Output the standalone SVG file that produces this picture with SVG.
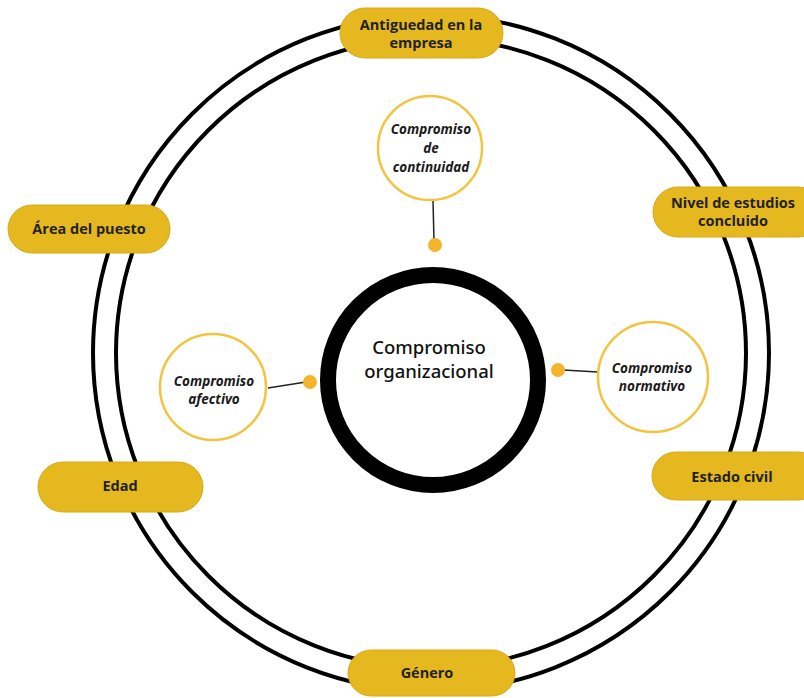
<svg xmlns="http://www.w3.org/2000/svg" width="804" height="698" viewBox="0 0 804 698">
<style>
.ring{fill:none;stroke:#000;stroke-width:4}
.pill{fill:#E6B81F;stroke:#D8A916;stroke-width:1}
.pt{font-family:"Open Sans","Noto Sans",sans-serif;font-weight:700;font-size:14.5px;fill:#222;text-anchor:middle}
.sc{fill:#fff;stroke:#F2C440;stroke-width:2.5}
.st{font-family:"Noto Sans","Open Sans",sans-serif;font-weight:700;font-style:italic;font-size:13.5px;fill:#1a1a1a;text-anchor:middle}
.ct{font-family:"Noto Sans","Open Sans",sans-serif;font-weight:500;font-size:18.5px;fill:#111;text-anchor:middle}
.dot{fill:#F4B52C}
.ln{stroke:#222;stroke-width:1.5;fill:none}
</style>
<rect width="804" height="698" fill="#fff"/>
<g id="rings">
<circle class="ring" cx="431" cy="353" r="338"/>
<circle class="ring" cx="431" cy="353" r="315"/>
</g>
<g id="connectors">
<line class="ln" x1="433" y1="200" x2="434" y2="242"/>
<line class="ln" x1="268" y1="388" x2="306" y2="382"/>
<line class="ln" x1="563" y1="370" x2="598" y2="372"/>
</g>
<g id="center">
<circle cx="433" cy="380" r="105" fill="#fff" stroke="#000" stroke-width="16"/>
<text class="ct" x="429" y="354">Compromiso</text>
<text class="ct" x="429" y="378">organizacional</text>
</g>
<g id="dot-top"><circle class="dot" cx="435" cy="245" r="7"/></g>
<g id="dot-left"><circle class="dot" cx="310" cy="382" r="7"/></g>
<g id="dot-right"><circle class="dot" cx="558" cy="370" r="7"/></g>
<g id="continuidad">
<circle class="sc" cx="430" cy="148" r="52"/>
<text class="st" x="431" y="134">Compromiso</text>
<text class="st" x="431" y="153">de</text>
<text class="st" x="431" y="172">continuidad</text>
</g>
<g id="afectivo">
<circle class="sc" cx="213" cy="387" r="53"/>
<text class="st" x="214" y="386">Compromiso</text>
<text class="st" x="214" y="404">afectivo</text>
</g>
<g id="normativo">
<circle class="sc" cx="653" cy="377" r="55"/>
<text class="st" x="652" y="373">Compromiso</text>
<text class="st" x="652" y="391">normativo</text>
</g>
<g id="antiguedad">
<rect class="pill" x="340" y="8" width="163" height="50" rx="25"/>
<text class="pt" x="421" y="30">Antiguedad en la</text>
<text class="pt" x="421" y="48">empresa</text>
</g>
<g id="area">
<rect class="pill" x="8" y="205" width="162" height="48" rx="24"/>
<text class="pt" x="89" y="234">Área del puesto</text>
</g>
<g id="nivel">
<rect class="pill" x="653" y="187" width="170" height="50" rx="25"/>
<text class="pt" x="733" y="208">Nivel de estudios</text>
<text class="pt" x="733" y="226">concluido</text>
</g>
<g id="edad">
<rect class="pill" x="38" y="462" width="165" height="50" rx="25"/>
<text class="pt" x="120" y="491">Edad</text>
</g>
<g id="estado">
<rect class="pill" x="652" y="452" width="170" height="48" rx="24"/>
<text class="pt" x="732" y="482">Estado civil</text>
</g>
<g id="genero">
<rect class="pill" x="348" y="650" width="167" height="46" rx="23"/>
<text class="pt" x="427" y="678">Género</text>
</g>
</svg>
